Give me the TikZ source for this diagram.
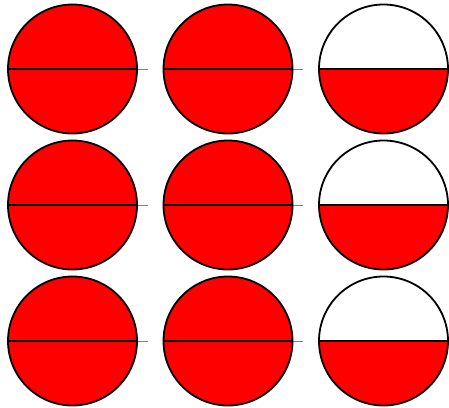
\documentclass[tikz,border=0pt]{standalone}
\begin{document}
\begin{tikzpicture}[x=1pt,y=-1pt,
  disc/.style={line width=1.8pt,draw=black},
  tick/.style={line width=0.7pt,draw=red!70}]
\useasboundingbox (0,0) rectangle (449,407);
\foreach \r/\cy in {1/69,2/205,3/341}{
  \foreach \c/\cx in {1/72.5,2/228}{
    \coordinate (c\c\r) at (\cx,\cy);
    \draw[tick] ([xshift=64.5pt]c\c\r) -- ([xshift=75pt]c\c\r);
    \fill[red] (c\c\r) circle (64.5);
    \draw[disc] (c\c\r) circle (64.5);
    \draw[disc] ([xshift=-64.5pt]c\c\r) -- ([xshift=64.5pt]c\c\r);
  }
  \coordinate (c3\r) at (383.5,\cy);
  \fill[red] ([xshift=-64.5pt]c3\r) arc[start angle=180,end angle=0,radius=64.5] -- cycle;
  \draw[disc] (c3\r) circle (64.5);
  \draw[disc] ([xshift=-64.5pt]c3\r) -- ([xshift=64.5pt]c3\r);
}
\end{tikzpicture}
\end{document}
